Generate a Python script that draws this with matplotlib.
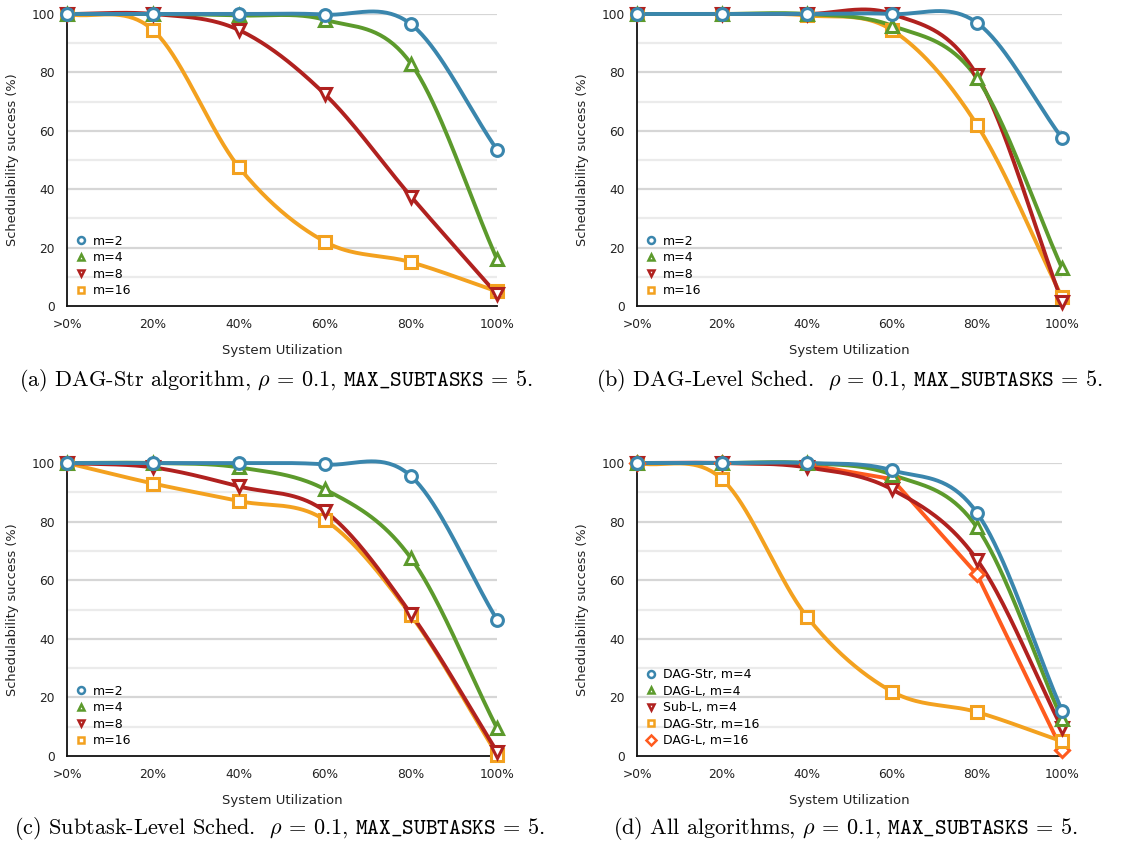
import numpy as np
import matplotlib
matplotlib.use("Agg")
import matplotlib.pyplot as plt
from matplotlib.lines import Line2D

plt.rcParams['mathtext.fontset'] = 'cm'

x_labels = [">0%", "20%", "40%", "60%", "80%", "100%"]
y_ticks = [0, 20, 40, 60, 80, 100]

# (a) DAG-Str algorithm
a_m2 = [100, 100, 100, 99.8, 96.5, 53.5]
a_m4 = [100, 100, 99.5, 98, 83, 16]
a_m8 = [100, 100, 94.5, 72.5, 37.5, 4]
a_m16 = [100, 94.5, 47.5, 22, 15, 5]

# (b) DAG-Level Sched.
b_m2 = [100, 100, 100, 100, 97, 57.5]
b_m4 = [100, 100, 100, 96, 78, 13]
b_m8 = [100, 100, 100, 100, 79, 1.5]
b_m16 = [100, 100, 99.5, 94.5, 62, 3]

# (c) Subtask-Level Sched.
c_m2 = [100, 100, 100, 99.5, 95.5, 46.5]
c_m4 = [100, 100, 98.5, 91, 67.5, 9.5]
c_m8 = [100, 98.5, 92, 83.5, 48.5, 1.5]
c_m16 = [100, 93, 87, 80.5, 48, 0.5]

# (d) All algorithms
d_str4 = [100, 100, 100, 97.5, 83, 15.5]
d_l4 = [100, 100, 100, 96, 78, 12.5]
d_sub4 = [100, 100, 98.5, 91, 67, 9.5]
d_str16 = [100, 94.5, 47.5, 22, 15, 5]
d_l16 = [100, 100, 99.5, 94.5, 62, 2]

m_labels = ["m=2", "m=4", "m=8", "m=16"]
d_labels = ["DAG-Str, m=4", "DAG-L, m=4", "Sub-L, m=4", "DAG-Str, m=16", "DAG-L, m=16"]

captions = [
    r"(a) DAG-Str algorithm, $\rho$ = 0.1, $\mathtt{MAX\_SUBTASKS}$ = 5.",
    r"(b) DAG-Level Sched.  $\rho$ = 0.1, $\mathtt{MAX\_SUBTASKS}$ = 5.",
    r"(c) Subtask-Level Sched.  $\rho$ = 0.1, $\mathtt{MAX\_SUBTASKS}$ = 5.",
    r"(d) All algorithms, $\rho$ = 0.1, $\mathtt{MAX\_SUBTASKS}$ = 5.",
]
caption_pos = [(276, 381), (850, 381), (279, 829), (845, 829)]

BLUE = "#3a86ad"
GREEN = "#5c9a2c"
RED = "#b0211f"
ORANGE = "#f3a11f"
ORED = "#ff5b1e"


def smooth(ys, n=40):
    """Catmull-Rom rendering of a series (drawing style of the original chart)."""
    ys = np.asarray(ys, float)
    k = len(ys)
    xs = np.arange(k, dtype=float)
    m = np.zeros(k)
    m[0] = ys[1] - ys[0]
    m[-1] = ys[-1] - ys[-2]
    m[1:-1] = (ys[2:] - ys[:-2]) / 2.0
    px, py = [], []
    t = np.linspace(0, 1, n)
    h00 = 2 * t**3 - 3 * t**2 + 1
    h10 = t**3 - 2 * t**2 + t
    h01 = -2 * t**3 + 3 * t**2
    h11 = t**3 - t**2
    for i in range(k - 1):
        px.append(xs[i] + t)
        py.append(h00 * ys[i] + h10 * m[i] + h01 * ys[i + 1] + h11 * m[i + 1])
    return np.concatenate(px), np.concatenate(py)


fig = plt.figure(figsize=(11.26, 8.48), dpi=100)

W, H = 1126.0, 848.0
boxes = [
    (67, 497, 14, 306),
    (637, 1062, 14, 306),
    (67, 497, 463, 756),
    (637, 1062, 463, 756),
]

panels = [
    ([a_m2, a_m4, a_m8, a_m16], m_labels, [BLUE, GREEN, RED, ORANGE], ['o', '^', 'v', 's'], [True] * 4),
    ([b_m2, b_m4, b_m8, b_m16], m_labels, [BLUE, GREEN, RED, ORANGE], ['o', '^', 'v', 's'], [True] * 4),
    ([c_m2, c_m4, c_m8, c_m16], m_labels, [BLUE, GREEN, RED, ORANGE], ['o', '^', 'v', 's'], [True] * 4),
    ([d_str4, d_l4, d_sub4, d_str16, d_l16], d_labels, [BLUE, GREEN, RED, ORANGE, ORED],
     ['o', '^', 'v', 's', 'D'], [True, True, True, True, False]),
]

draw_order = {0: [3, 2, 1, 0], 1: [3, 2, 1, 0], 2: [3, 2, 1, 0], 3: [3, 4, 2, 1, 0]}

for idx, (box, (series, labels, colors, markers, smooth_flags)) in enumerate(zip(boxes, panels)):
    l, r, t, b = box
    ax = fig.add_axes([l / W, 1 - b / H, (r - l) / W, (b - t) / H])
    ax.set_xlim(0, 5)
    ax.set_ylim(0, 100)
    for yv in range(10, 100, 20):
        ax.axhline(yv, color="#ebebeb", lw=1.6, zorder=0)
    for yv in range(20, 101, 20):
        ax.axhline(yv, color="#d6d6d6", lw=1.6, zorder=0)
    for j in draw_order[idx]:
        ys = series[j]
        if smooth_flags[j]:
            sx, sy = smooth(ys)
        else:
            sx, sy = np.arange(len(ys)), np.asarray(ys)
        ax.plot(sx, sy, color=colors[j], lw=2.8, clip_on=False, zorder=2 + 0.1 * (5 - j),
                solid_capstyle='round')
        ax.plot(np.arange(len(ys)), ys, linestyle='none', marker=markers[j],
                markersize=8.5 if markers[j] != 'D' else 7.5,
                markerfacecolor='white', markeredgecolor=colors[j], markeredgewidth=2.2,
                clip_on=False, zorder=3 + 0.1 * (5 - j))
    ax.set_xticks(range(6))
    ax.set_xticklabels(x_labels)
    ax.set_yticks(y_ticks)
    ax.tick_params(length=0, labelsize=8.8, colors="#222222", pad=9)
    ax.tick_params(axis='x', pad=9)
    for s in ['top', 'right']:
        ax.spines[s].set_visible(False)
    for s in ['left', 'bottom']:
        ax.spines[s].set_color("#111111")
        ax.spines[s].set_linewidth(1.3)
    ax.set_xlabel("System Utilization", fontsize=9.5, color="#222222", labelpad=9)
    ax.set_ylabel("Schedulability success (%)", fontsize=9.3, color="#222222", labelpad=9)

    handles = [Line2D([], [], linestyle='none', marker=markers[j], markersize=5,
                      markerfacecolor='white', markeredgecolor=colors[j], markeredgewidth=1.8)
               for j in range(len(series))]
    ax.legend(handles, labels, loc='lower left', bbox_to_anchor=(0.0, 0.0), frameon=False,
              fontsize=9, handlelength=0.8, handletextpad=0.6, labelspacing=0.28,
              borderaxespad=0.3)

    cx, cy = caption_pos[idx]
    fig.text(cx / W, 1 - cy / H, captions[idx], ha='center', va='center', fontsize=16,
             family='cmr10')

fig.savefig("out.png", dpi=100)
